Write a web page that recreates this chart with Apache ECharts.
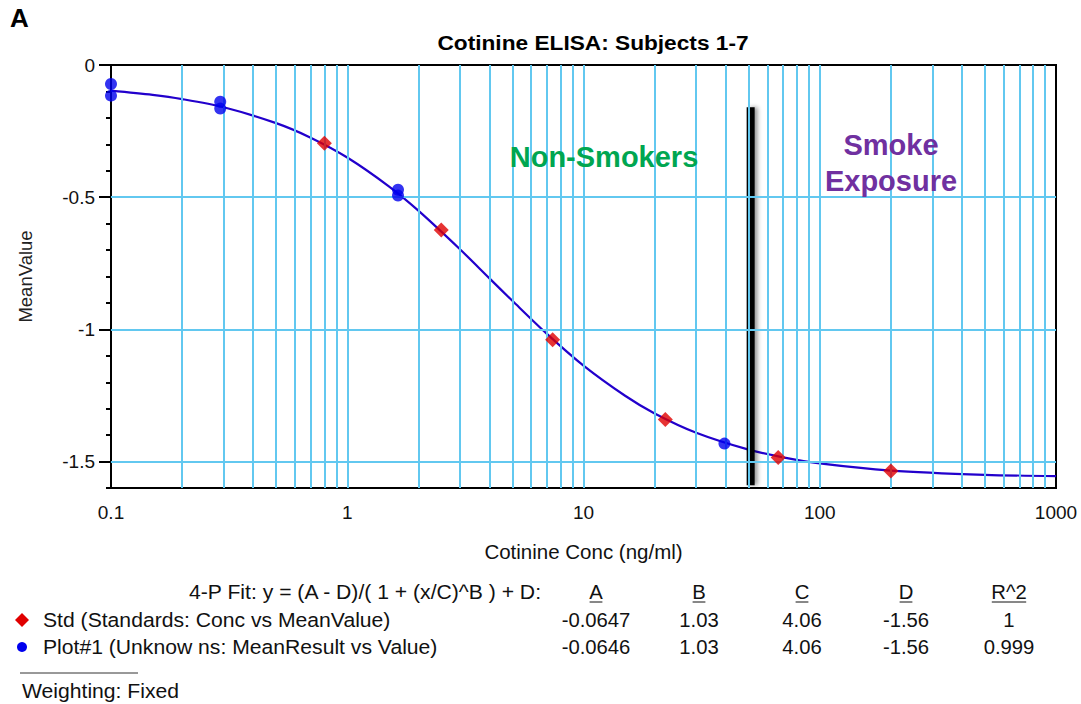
<!DOCTYPE html>
<html><head><meta charset="utf-8">
<script src="https://cdn.jsdelivr.net/npm/echarts@6/dist/echarts.min.js"></script>
<style>html,body{margin:0;padding:0;background:#fff}#c{width:1081px;height:704px}</style>
</head><body><div id="c"></div>
<script>
const FONT = "'Liberation Sans', Arial, Helvetica, sans-serif";

// Standards (red diamonds)
const stdConc = [0.8, 2.5, 7.4, 22.2, 66.7, 200];
const stdMean = [-0.296, -0.624, -1.039, -1.341, -1.485, -1.536];
// Unknowns (blue dots)
const unkConc = [0.1, 0.1, 0.29, 0.29, 1.64, 1.64, 39.5];
const unkMean = [-0.072, -0.116, -0.139, -0.165, -0.472, -0.494, -1.432];
// Fitted curve
const fitConc = [0.1, 0.15, 0.2, 0.3, 0.5, 0.7, 1, 1.5, 2, 3, 4, 5, 7, 10, 15, 20, 30, 50, 70, 100, 200, 500, 1000];
const fitMean = [-0.097, -0.113, -0.129, -0.160, -0.220, -0.275, -0.350, -0.459, -0.551, -0.697, -0.807, -0.892, -1.017, -1.137, -1.251, -1.318, -1.391, -1.455, -1.484, -1.507, -1.534, -1.550, -1.555];
// Cut-off bar (concentration, top value, bottom value)
const cutoffConc = [51];
const cutoffTop = [-0.16];
const cutoffBottom = [-1.59];

// Ticks
const xMajorTicks = [0.1, 1, 10, 100, 1000];
const xMinorTicks = [0.2,0.3,0.4,0.5,0.6,0.7,0.8,0.9, 2,3,4,5,6,7,8,9, 20,30,40,50,60,70,80,90, 200,300,400,500,600,700,800,900];
const xGridValues = [0.2,0.3,0.4,0.5,0.6,0.7,0.8,0.9,1, 2,3,4,5,6,7,8,9,10, 20,30,40,50,60,70,80,90,100, 200,300,400,500,600,700,800,900];
const yMajorTicks = [0, -0.5, -1, -1.5];
const yGridValues = [-0.5, -1, -1.5];

// Fit table
const fitFormula = '4-P Fit: y = (A - D)/( 1 + (x/C)^B ) + D:';
const fitHeaders = ['A', 'B', 'C', 'D', 'R^2'];
const stdFit = ['-0.0647', '1.03', '4.06', '-1.56', '1'];
const unkFit = ['-0.0646', '1.03', '4.06', '-1.56', '0.999'];
const stdLabel = 'Std (Standards: Conc vs MeanValue)';
const unkLabel = 'Plot#1 (Unknow ns: MeanResult vs Value)';

const chart = echarts.init(document.getElementById('c'), null, {renderer: 'svg'});

const gridColor = '#62c8f0';
const colX = [596, 699, 802, 906, 1009];
const SX = 1.085;

function txt(x, y, text, o, sx) {
  return {type: 'text', x: x, y: y, z: 100, silent: true, scaleX: sx || 1,
    style: Object.assign({text: text, fontFamily: FONT, fontSize: 19.5, fill: '#111', align: 'left', verticalAlign: 'middle'}, o || {})};
}

const graphics = [
  txt(10, 18, 'A', {fontSize: 26, fontWeight: 'bold', fill: '#000'}),
  txt(593, 43, 'Cotinine ELISA: Subjects 1-7', {fontSize: 21, fontWeight: 'bold', fill: '#000', align: 'center'}, 1.08),
  txt(604, 157, 'Non-Smokers', {fontSize: 29, fontWeight: 'bold', fill: '#00a651', align: 'center'}),
  txt(891, 145, 'Smoke', {fontSize: 29, fontWeight: 'bold', fill: '#7030a0', align: 'center'}),
  txt(891, 181, 'Exposure', {fontSize: 29, fontWeight: 'bold', fill: '#7030a0', align: 'center'}),
  txt(541, 592, fitFormula, {align: 'right'}, SX),
  txt(43, 620, stdLabel, null, SX),
  txt(43, 647, unkLabel, null, SX),
  txt(22, 691, 'Weighting: Fixed', null, SX),
  {type: 'line', silent: true, shape: {x1: 20, y1: 673, x2: 138, y2: 673}, style: {stroke: '#333', lineWidth: 1}},
  {type: 'polygon', silent: true, shape: {points: [[22, 613], [29, 620], [22, 627], [15, 620]]}, style: {fill: '#e00000'}},
  {type: 'circle', silent: true, shape: {cx: 22, cy: 647, r: 5}, style: {fill: '#0000ee'}}
];
fitHeaders.forEach(function (h, i) {
  graphics.push(txt(colX[i], 592, h, {align: 'center'}, 1.04));
  const w = h.length * 10.8 + 2;
  graphics.push({type: 'line', silent: true, shape: {x1: colX[i] - w / 2, y1: 602, x2: colX[i] + w / 2, y2: 602}, style: {stroke: '#111', lineWidth: 1}});
  graphics.push(txt(colX[i], 620, stdFit[i], {align: 'center'}, 1.04));
  graphics.push(txt(colX[i], 647, unkFit[i], {align: 'center'}, 1.04));
});

const markLineData = xGridValues.map(function (v) { return {xAxis: v}; })
  .concat(yGridValues.map(function (v) { return {yAxis: v}; }));

chart.setOption({
  animation: false,
  backgroundColor: '#fff',
  textStyle: {fontFamily: FONT},
  grid: {left: 111, right: 25, top: 65, bottom: 216, show: true, borderColor: '#000', borderWidth: 2, backgroundColor: 'transparent'},
  xAxis: [
    {
      type: 'log', logBase: 10, min: 0.1, max: 1000, position: 'bottom',
      axisLine: {show: true, lineStyle: {color: '#000', width: 2}},
      axisTick: {show: true, length: 10, lineStyle: {color: '#000', width: 2}, customValues: xMajorTicks},
      axisLabel: {show: true, margin: 15, fontSize: 19, color: '#111', fontFamily: FONT, customValues: xMajorTicks,
        formatter: function (v) { return String(+(+v).toPrecision(6)); }},
      splitLine: {show: false},
      name: 'Cotinine Conc (ng/ml)', nameLocation: 'middle', nameGap: 53,
      nameTextStyle: {fontSize: 20.5, color: '#111', fontFamily: FONT}
    },
    {
      type: 'log', logBase: 10, min: 0.1, max: 1000, position: 'bottom',
      axisLine: {show: false},
      axisTick: {show: true, length: 5, lineStyle: {color: '#000', width: 2}, customValues: xMinorTicks},
      axisLabel: {show: false},
      splitLine: {show: false}
    }
  ],
  yAxis: [
    {
      type: 'value', min: -1.6, max: 0, position: 'left',
      axisLine: {show: true, lineStyle: {color: '#000', width: 2}},
      axisTick: {show: true, length: 12, lineStyle: {color: '#000', width: 2}, customValues: yMajorTicks},
      axisLabel: {show: true, margin: 16, fontSize: 19, color: '#111', fontFamily: FONT, customValues: yMajorTicks,
        formatter: function (v) { return String(+(+v).toPrecision(6)); }},
      splitLine: {show: false},
      name: 'MeanValue', nameLocation: 'middle', nameGap: 76,
      nameTextStyle: {fontSize: 18.5, color: '#222', fontFamily: FONT}
    },
    {
      type: 'value', min: -1.6, max: 0, interval: 0.1, position: 'left',
      axisLine: {show: false},
      axisTick: {show: true, length: 5, lineStyle: {color: '#000', width: 2}},
      axisLabel: {show: false},
      splitLine: {show: false}
    }
  ],
  series: [
    {
      name: 'grid', type: 'line', xAxisIndex: 0, yAxisIndex: 0, data: [], z: 1, silent: true,
      markLine: {silent: true, symbol: ['none', 'none'], label: {show: false},
        lineStyle: {color: gridColor, width: 2, type: 'solid'}, emphasis: {disabled: true},
        data: markLineData}
    },
    {
      name: 'fit', type: 'line', xAxisIndex: 0, yAxisIndex: 0, z: 3, silent: true,
      data: fitConc.map(function (c, i) { return [c, fitMean[i]]; }),
      smooth: 0.3, showSymbol: false, symbol: 'none',
      lineStyle: {color: '#2200cc', width: 2.2}
    },
    {
      name: 'cutoff', type: 'custom', xAxisIndex: 0, yAxisIndex: 0, z: 4, silent: true,
      data: cutoffConc.map(function (c, i) { return [c, cutoffTop[i], cutoffBottom[i]]; }),
      encode: {x: 0, y: [1, 2]},
      renderItem: function (params, api) {
        const top = api.coord([api.value(0), api.value(1)]);
        const bot = api.coord([api.value(0), api.value(2)]);
        return {type: 'rect', shape: {x: top[0] - 4, y: top[1], width: 8, height: bot[1] - top[1]},
          style: {fill: '#000', shadowBlur: 4, shadowColor: 'rgba(0,0,0,0.4)', shadowOffsetX: 3, shadowOffsetY: 0}};
      }
    },
    {
      name: 'Std', type: 'scatter', xAxisIndex: 0, yAxisIndex: 0, z: 5, silent: true,
      data: stdConc.map(function (c, i) { return [c, stdMean[i]]; }),
      symbol: 'diamond', symbolSize: 15, itemStyle: {color: '#e00000'}
    },
    {
      name: 'Plot#1', type: 'scatter', xAxisIndex: 0, yAxisIndex: 0, z: 5, silent: true,
      data: unkConc.map(function (c, i) { return [c, unkMean[i]]; }),
      symbol: 'circle', symbolSize: 12, itemStyle: {color: '#0000ee'}
    }
  ],
  graphic: graphics
});
</script></body></html>
